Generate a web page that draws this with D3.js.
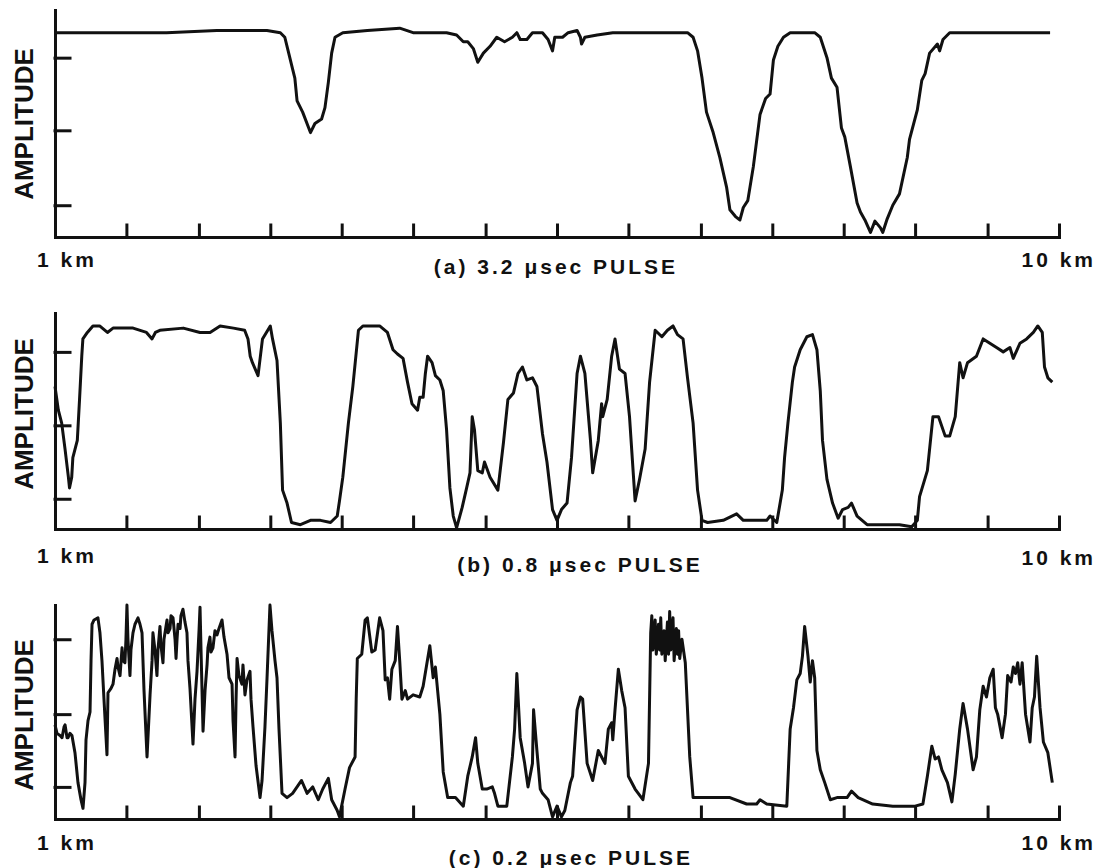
<!DOCTYPE html>
<html lang="en">
<head>
<meta charset="UTF-8" />
<script src="https://cdnjs.cloudflare.com/ajax/libs/d3/7.8.5/d3.min.js"></script>
<style>
  body { margin: 0; background: #fff; }
  svg text { font-family: "Liberation Sans", Arial, sans-serif; font-weight: bold; fill: #111; }
  .axis path, .axis line { stroke: #111; stroke-width: 3; stroke-linecap: square; }
</style>
</head>
<body>
<svg width="1108" height="868"></svg>
<script>
// range (km) and amplitude (% of axis height)
var traceA = [[1.00,90],[1.25,90],[1.40,90],[2.00,90],[2.45,91],[2.90,91],[3.02,90],[3.06,88],[3.09,82],[3.13,74],
  [3.15,70],[3.17,60],[3.22,55],[3.29,46],[3.33,50],[3.39,52],[3.42,57],[3.45,68],[3.48,81],[3.51,88],
  [3.58,90],[3.80,91],[4.09,92],[4.21,90],[4.51,90],[4.60,89],[4.66,86],[4.70,86],[4.75,83],[4.79,77],
  [4.84,81],[4.90,84],[4.96,88],[5.03,86],[5.10,88],[5.14,90],[5.17,87],[5.23,87],[5.28,90],[5.37,90],
  [5.42,87],[5.46,82],[5.48,88],[5.53,88],[5.55,88],[5.60,90],[5.68,91],[5.71,88],[5.72,85],[5.75,88],
  [5.86,89],[6.00,90],[6.31,90],[6.67,90],[6.72,88],[6.76,82],[6.80,70],[6.84,55],[6.90,46],[6.96,35],
  [7.02,22],[7.05,12],[7.10,9],[7.14,7.5],[7.17,13],[7.21,16],[7.26,31],[7.32,54],[7.37,61],[7.41,63],
  [7.44,78],[7.48,84],[7.53,88],[7.59,90],[7.65,90],[7.81,90],[7.86,88],[7.92,79],[7.96,70],[8.01,66],
  [8.05,48],[8.08,44],[8.13,31],[8.19,15],[8.22,11],[8.26,7.5],[8.31,2],[8.35,7],[8.40,4],[8.42,2],
  [8.46,8],[8.51,14],[8.57,19],[8.64,35],[8.66,43],[8.73,56],[8.77,69],[8.80,72],[8.84,81],[8.91,85],
  [8.93,82],[8.96,87],[9.02,90],[9.50,90],[9.92,90]];

var traceB = [[1.00,66],[1.03,55],[1.06,49],[1.09,37],[1.12,24],[1.13,19],[1.15,24],[1.16,33],[1.20,41],[1.22,60],
  [1.24,80],[1.25,88],[1.29,91],[1.34,94],[1.40,94],[1.47,91],[1.52,93],[1.70,93],[1.82,91],[1.87,88],
  [1.90,91],[1.94,92],[2.15,93],[2.30,91],[2.39,91],[2.48,94],[2.60,93],[2.70,92],[2.73,88],[2.75,80],
  [2.77,77],[2.82,71],[2.86,88],[2.93,94],[2.95,88],[2.99,78],[3.02,49],[3.04,18],[3.08,12],[3.12,3],
  [3.20,2],[3.29,4],[3.38,4],[3.47,3],[3.53,6],[3.55,13],[3.58,24],[3.63,49],[3.67,66],[3.72,92],
  [3.76,94],[3.91,94],[3.98,91],[4.03,83],[4.07,81],[4.12,79],[4.16,68],[4.20,58],[4.25,55],[4.27,61],
  [4.30,61],[4.32,72],[4.34,80],[4.38,77],[4.41,71],[4.45,69],[4.48,64],[4.51,46],[4.54,19],[4.57,6],
  [4.60,0.5],[4.65,10],[4.69,19],[4.72,26],[4.74,52],[4.76,46],[4.79,27],[4.83,26],[4.85,31],[4.90,24],
  [4.97,18],[5.02,40],[5.06,60],[5.11,63],[5.15,72],[5.19,75],[5.23,69],[5.28,70],[5.32,66],[5.37,44],
  [5.41,31],[5.46,9],[5.50,4],[5.54,9],[5.59,12],[5.63,33],[5.68,72],[5.71,80],[5.75,72],[5.80,41],
  [5.82,26],[5.87,41],[5.90,58],[5.91,52],[5.95,60],[5.99,80],[6.02,88],[6.06,74],[6.11,72],[6.15,52],
  [6.20,13],[6.24,23],[6.29,37],[6.33,68],[6.38,92],[6.44,89],[6.49,92],[6.54,94],[6.58,90],[6.63,88],
  [6.67,70],[6.72,49],[6.76,18],[6.80,4],[6.85,3],[6.99,4],[7.11,7],[7.17,4],[7.38,4],[7.41,6],
  [7.47,3],[7.52,18],[7.54,33],[7.57,49],[7.61,68],[7.63,75],[7.68,83],[7.74,89],[7.79,90],[7.83,83],
  [7.86,64],[7.88,41],[7.92,23],[7.97,12],[8.02,5],[8.06,9],[8.11,10],[8.14,12],[8.19,6],[8.28,2],
  [8.40,2],[8.57,2],[8.68,1],[8.73,4],[8.75,15],[8.82,27],[8.87,52],[8.92,52],[8.98,43],[9.02,43],
  [9.07,52],[9.11,77],[9.14,70],[9.18,77],[9.26,80],[9.32,88],[9.38,86],[9.44,84],[9.50,82],[9.56,84],
  [9.59,79],[9.65,86],[9.71,88],[9.77,91],[9.81,94],[9.85,91],[9.87,75],[9.90,70],[9.94,68]];

var traceC = [[1.000,44],[1.018,40],[1.045,39],[1.063,38],[1.081,43],[1.090,44],[1.108,38],[1.117,38],[1.134,40],[1.152,39],
  [1.179,31],[1.206,17],[1.233,9],[1.251,5],[1.269,17],[1.278,37],[1.296,46],[1.314,50],[1.323,74],[1.332,91],
  [1.350,93],[1.385,94],[1.403,87],[1.421,74],[1.439,56],[1.466,30],[1.475,59],[1.502,61],[1.520,63],[1.538,70],
  [1.556,75],[1.565,71],[1.583,67],[1.601,80],[1.610,74],[1.627,73],[1.636,84],[1.645,100],[1.654,84],[1.672,67],
  [1.681,79],[1.699,87],[1.717,91],[1.744,94],[1.762,91],[1.780,87],[1.798,60],[1.825,29],[1.852,58],[1.870,74],
  [1.878,87],[1.896,79],[1.914,67],[1.923,79],[1.941,90],[1.950,81],[1.968,73],[1.977,84],[2.004,93],[2.013,87],
  [2.031,89],[2.040,95],[2.058,94],[2.076,84],[2.085,75],[2.094,84],[2.103,91],[2.121,89],[2.129,95],[2.147,98],
  [2.165,92],[2.183,87],[2.192,74],[2.210,61],[2.237,35],[2.255,56],[2.273,69],[2.291,88],[2.300,99],[2.309,79],
  [2.327,41],[2.345,60],[2.363,72],[2.371,80],[2.389,85],[2.398,78],[2.416,80],[2.434,88],[2.452,86],[2.470,89],
  [2.497,93],[2.515,85],[2.542,77],[2.560,66],[2.587,63],[2.596,46],[2.614,29],[2.623,56],[2.632,75],[2.649,67],
  [2.676,63],[2.685,72],[2.703,58],[2.721,65],[2.748,69],[2.757,56],[2.775,43],[2.802,25],[2.838,10],[2.856,18],
  [2.882,43],[2.900,65],[2.927,100],[2.945,88],[2.972,74],[2.990,66],[3.008,42],[3.035,12],
  [3.08,10],[3.13,12],[3.21,18],[3.26,12],
  [3.31,15],[3.36,9],[3.40,14],[3.45,19],[3.48,9],[3.53,4],[3.55,1],[3.60,14],[3.64,24],[3.69,29],
  [3.70,56],[3.71,75],[3.75,77],[3.78,93],[3.80,94],[3.84,78],[3.87,79],[3.91,94],[3.94,88],[3.96,65],
  [3.98,66],[4.00,56],[4.02,70],[4.05,74],[4.07,90],[4.09,74],[4.11,56],[4.14,60],[4.16,56],[4.21,58],
  [4.27,57],[4.30,62],[4.36,81],[4.39,66],[4.41,71],[4.45,49],[4.48,22],[4.52,10],[4.59,10],[4.66,6],
  [4.70,20],[4.74,29],[4.77,38],[4.79,26],[4.83,14],
  [4.87,14],[4.92,15],[4.94,12],[4.97,6],[5.05,6],[5.10,29],[5.12,42],[5.14,68],[5.17,38],[5.21,26],
  [5.24,15],[5.28,26],[5.29,51],[5.32,32],[5.35,14],[5.37,12],[5.42,9],[5.46,1],[5.50,6],[5.54,1],
  [5.57,4],[5.62,17],[5.64,20],[5.68,51],[5.71,57],[5.73,56],[5.77,26],[5.82,18],[5.87,32],[5.90,29],
  [5.93,26],[5.96,42],[5.99,45],[6.00,37],[6.02,51],[6.05,70],[6.08,60],[6.11,52],[6.14,20],[6.20,14],
  [6.27,9],[6.32,26],[6.34,87],[6.35,95],[6.36,79],[6.38,93],[6.39,77],[6.41,91],[6.42,79],[6.43,94],
  [6.44,77],[6.46,88],[6.47,74],[6.49,92],[6.50,77],[6.51,97],[6.52,79],[6.54,94],[6.55,74],[6.57,89],
  [6.58,77],[6.59,88],[6.60,75],[6.62,84],[6.65,73],[6.69,29],[6.72,10],[6.78,10],[7.05,10],[7.20,7],
  [7.29,7],[7.32,9],[7.38,7],[7.56,6],[7.59,42],[7.62,52],[7.65,65],[7.68,68],[7.70,76],[7.72,90],
  [7.75,76],[7.77,64],[7.79,74],[7.81,66],[7.83,32],[7.86,23],[7.90,17],[7.95,9],[8.01,10],[8.10,10],
  [8.14,13],[8.20,10],[8.33,7],[8.51,6],[8.71,6],[8.78,7],[8.82,20],[8.86,34],[8.89,28],[8.92,29],
  [8.95,23],[9.00,17],[9.04,8],[9.07,21],[9.11,42],[9.14,54],[9.16,48],[9.18,42],[9.23,23],[9.26,29],
  [9.29,51],[9.32,62],[9.35,57],[9.38,66],[9.41,70],[9.43,52],[9.45,49],[9.49,38],[9.52,49],[9.54,67],
  [9.57,64],[9.59,71],[9.61,68],[9.63,73],[9.65,63],[9.67,73],[9.70,49],[9.74,36],[9.76,52],[9.78,57],
  [9.80,76],[9.83,52],[9.86,36],[9.90,31],[9.94,17]];

var ampTicksA = [14, 47, 79];
var ampTicksB = [14, 48, 82];
var ampTicksC = [15, 49, 84];

var rangeTicks = [1, 1.64, 2.29, 2.93, 3.57, 4.21, 4.86, 5.5, 6.14, 6.79, 7.43, 8.07, 8.71, 9.36, 10];
var captions = ["(a) 3.2 \u03bcsec PULSE", "(b) 0.8 \u03bcsec PULSE", "(c) 0.2 \u03bcsec PULSE"];
var endLabels = ["1 km", "10 km"];
var yTitle = "AMPLITUDE";

var panels = [
  { trace: traceA, ticks: ampTicksA, top: 10,  base: 237, capX: 556, capY: 274, kmY: 267, km10Y: 267, titleY: 124 },
  { trace: traceB, ticks: ampTicksB, top: 313, base: 529, capX: 580, capY: 572, kmY: 563, km10Y: 565, titleY: 414 },
  { trace: traceC, ticks: ampTicksC, top: 605, base: 819, capX: 571, capY: 865, kmY: 850, km10Y: 850, titleY: 715 }
];

var svg = d3.select("svg");
var x = d3.scaleLinear().domain([1, 10]).range([55, 1059]);

panels.forEach(function(p, i) {
  var y = d3.scaleLinear().domain([0, 100]).range([p.base, p.top]);
  var g = svg.append("g");

  // amplitude axis, ticks pointing inward
  g.append("g").attr("class", "axis")
    .attr("transform", "translate(55,0)")
    .call(d3.axisRight(y).tickValues(p.ticks).tickSize(15).tickSizeOuter(0).tickFormat(""));

  // range axis, ticks pointing up
  g.append("g").attr("class", "axis")
    .attr("transform", "translate(0," + p.base + ")")
    .call(d3.axisTop(x).tickValues(rangeTicks).tickSize(12).tickSizeOuter(0).tickFormat(""));

  var line = d3.line()
    .x(function(d) { return x(d[0]); })
    .y(function(d) { return y(d[1]); });

  g.append("path")
    .datum(p.trace)
    .attr("fill", "none")
    .attr("stroke", "#111")
    .attr("stroke-width", 3)
    .attr("stroke-linejoin", "round")
    .attr("d", line);

  g.append("text")
    .attr("transform", "translate(33," + p.titleY + ") rotate(-90)")
    .attr("text-anchor", "middle")
    .style("font-size", "26px")
    .text(yTitle);

  g.append("text")
    .attr("x", 37).attr("y", p.kmY)
    .style("font-size", "21px").style("letter-spacing", "3px")
    .text(endLabels[0]);

  g.append("text")
    .attr("x", 1096).attr("y", p.km10Y)
    .attr("text-anchor", "end")
    .style("font-size", "21px").style("letter-spacing", "3px")
    .text(endLabels[1]);

  g.append("text")
    .attr("x", p.capX).attr("y", p.capY)
    .attr("text-anchor", "middle")
    .style("font-size", "21px").style("letter-spacing", "3px")
    .text(captions[i]);
});
</script>
</body>
</html>
